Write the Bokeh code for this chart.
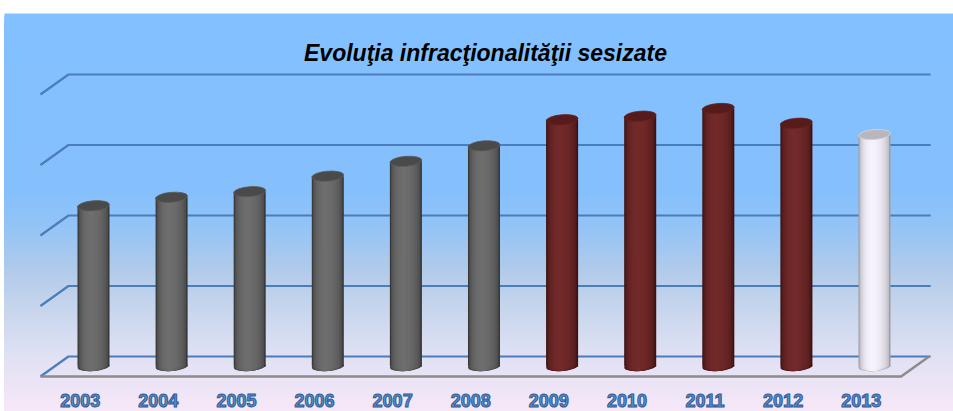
import math
import numpy as np
from bokeh.plotting import figure
from bokeh.models import Label
from bokeh.embed import file_html
from bokeh.resources import INLINE
from bokeh.core.properties import value

# ---------------- data ----------------
years = ["2003", "2004", "2005", "2006", "2007", "2008",
         "2009", "2010", "2011", "2012", "2013"]
cases = [228, 240, 248, 270, 291, 313, 350, 355, 366, 345, 329]   # thousands
groups = ["gray", "gray", "gray", "gray", "gray", "gray",
          "red", "red", "red", "red", "white"]
grid_values = [0, 100, 200, 300, 400]
title_text = "Evoluţia infracţionalităţii sesizate"

# ---------------- styling ----------------
palette = {
    "gray": dict(edge=(56, 56, 56), mid=(110, 110, 110), top=(74, 74, 74)),
    "red": dict(edge=(60, 17, 17), mid=(114, 42, 42), top=(86, 27, 27)),
    "white": dict(edge=(158, 158, 165), mid=(247, 243, 253), top=(183, 183, 189)),
}

def hexc(c):
    return "#%02x%02x%02x" % tuple(int(round(v)) for v in c)

def blend(a, b, f):
    return tuple(a[i] + (b[i] - a[i]) * f for i in range(3))

PX_X = 78.1       # pixels per category step
PX_V = 0.705      # pixels per value unit
BASE_PX = 366.0   # pixel row of value 0 in the bar plane
CX0 = 93.0        # pixel column of the first category
W_PX, H_PX = 953, 411

X0, X1 = (0 - CX0) / PX_X, (W_PX - CX0) / PX_X
Y0, Y1 = (BASE_PX - H_PX) / PX_V, BASE_PX / PX_V
DX, DY = 14 / PX_X, 10 / PX_V      # half-depth of the 3D box
WL, WR = -0.5, 10.52               # wall extents in the bar plane
BAR_W = 0.41
ANG = 0.08

p = figure(width=W_PX, height=H_PX, x_range=(X0, X1), y_range=(Y0, Y1),
           output_backend="svg", toolbar_location=None,
           x_axis_location=None, y_axis_location=None, min_border=0)
p.grid.visible = False
p.outline_line_color = None
p.background_fill_color = "white"
p.border_fill_color = "white"

# ---------------- gradient background ----------------
def ref_to_v(ry):
    return (BASE_PX - ry) / PX_V

stops_y = [13, 190, 230, 270, 310, 350, 411]
stops_c = [(131, 192, 255), (133, 192, 253), (150, 196, 245), (178, 203, 234),
           (200, 214, 237), (222, 224, 243), (248, 232, 248)]
band_tops = np.arange(13, 412, 2)
tops, cols = [], []
for ry in band_tops:
    c = tuple(np.interp(ry, stops_y, [s[i] for s in stops_c]) for i in range(3))
    tops.append(ref_to_v(ry))
    cols.append(hexc(c))
p.quad(left=(4 - CX0) / PX_X, right=X1, top=tops, bottom=Y0, fill_color=cols, line_color=None)

# ---------------- walls / gridlines ----------------
gx, gy = [], []
for g in grid_values:
    gx.append([WL - DX, WL + DX, WR + DX + 0.02])
    gy.append([g - DY, g + DY, g + DY])
p.multi_line(xs=gx, ys=gy, line_color="#4a7dba", line_width=2.2)
p.line(x=[WL - DX, WR - DX, WR + DX], y=[-DY, -DY, DY], line_color="#8c8c8c", line_width=2.5)

# ---------------- cylinders ----------------
idx = list(range(len(years)))
K = 12
for k in range(K):
    s = 1 - k / K
    f = math.sqrt(max(0.0, 1 - s * s))
    colors = [hexc(blend(palette[g]["edge"], palette[g]["mid"], f)) for g in groups]
    xs = [i - 0.035 * (k / K) for i in idx]
    p.ellipse(x=xs, y=[0] * len(idx), width=BAR_W * s, height=9, height_units="screen",
              angle=ANG, fill_color=colors, line_color=None)
    p.vbar(x=xs, bottom=0, top=cases, width=BAR_W * s, fill_color=colors, line_color=None)

top_cols = [hexc(palette[g]["top"]) for g in groups]
rim_cols = [hexc(blend(palette[g]["top"], palette[g]["mid"], 0.5)) for g in groups]
p.ellipse(x=idx, y=cases, width=BAR_W, height=10, height_units="screen", angle=ANG,
          fill_color=top_cols, line_color=rim_cols, line_width=0.8)

# ---------------- labels ----------------
p.text(x=[i - 0.17 for i in idx], y=[ref_to_v(406)] * len(idx), text=years,
       text_align="center", text_baseline="bottom",
       text_font=value("Liberation Sans"), text_font_style="bold",
       text_font_size="18px", text_color="#5b8fd3", text_outline_color="#2f5a91")

p.add_layout(Label(x=(485 - CX0) / PX_X, y=ref_to_v(52), text=title_text, text_align="center",
                   text_baseline="middle", text_font="Liberation Sans",
                   text_font_style="bold italic", text_font_size="23px",
                   text_color="black"))

open("out.html", "w").write(file_html(p, INLINE))
